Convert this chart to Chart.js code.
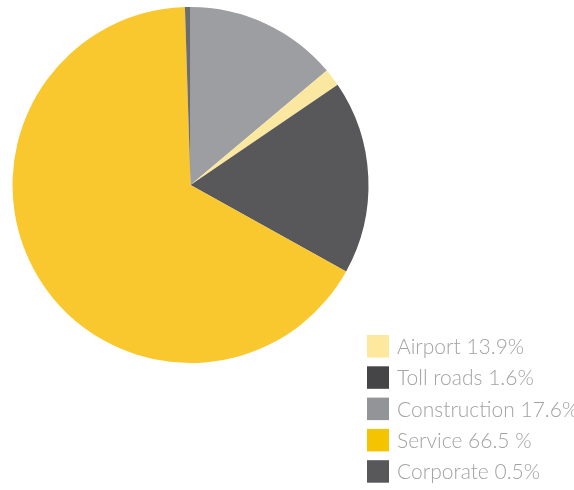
<!DOCTYPE html>
<html>
<head>
<meta charset="utf-8">
<script src="https://cdn.jsdelivr.net/npm/chart.js@4.4.1/dist/chart.umd.min.js"></script>
<style>
  html, body { margin: 0; padding: 0; background: #fff; }
  #wrap { width: 574px; height: 490px; position: relative; }
</style>
</head>
<body>
<div id="wrap"><canvas id="segmentChart"></canvas></div>
<script>
const segments = ["Airport", "Toll roads", "Construction", "Service", "Corporate"];
const shares = [13.9, 1.6, 17.6, 66.5, 0.5];
const shareLabels = ["13.9%", "1.6%", "17.6%", "66.5 %", "0.5%"];

// slice fills, and the swatches printed in the key
const sliceColors = ["#9d9ea1", "#fbe8a0", "#58585a", "#f9c82f", "#6b6c70"];
const keyColors = ["#fde89e", "#454547", "#939497", "#f6c300", "#58585a"];

// key drawn in the lower right corner
const sideKey = {
  id: "sideKey",
  afterDraw(chart) {
    const ctx = chart.ctx;
    const x = 367, y0 = 335, row = 31.3, box = 22;
    ctx.save();
    ctx.font = "300 21px Lato, 'Open Sans', sans-serif";
    ctx.textBaseline = "alphabetic";
    segments.forEach((name, i) => {
      const y = y0 + i * row;
      ctx.fillStyle = keyColors[i];
      ctx.fillRect(x, y, box, box + 0.5);
      ctx.fillStyle = "#a3a3a5";
      ctx.fillText(name + " " + shareLabels[i], x + 30, y + 19);
    });
    ctx.restore();
  }
};

new Chart(document.getElementById("segmentChart"), {
  type: "pie",
  data: {
    labels: segments,
    datasets: [
      {
        data: shares,
        backgroundColor: sliceColors,
        borderWidth: 0,
      },
    ],
  },
  options: {
    responsive: true,
    maintainAspectRatio: false,
    animation: false,
    layout: {
      padding: { left: 12, top: 7, right: 205, bottom: 127 },
    },
    plugins: {
      legend: { display: false },
      tooltip: { enabled: false },
    },
  },
  plugins: [sideKey],
});
</script>
</body>
</html>
